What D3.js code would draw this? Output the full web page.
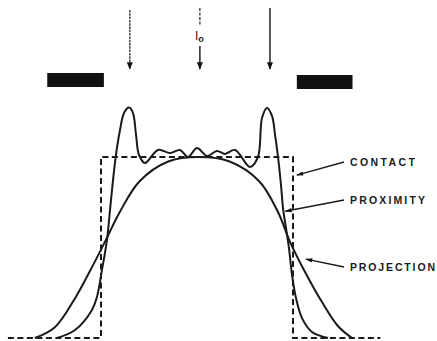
<!DOCTYPE html>
<html>
<head>
<meta charset="utf-8">
<script src="https://cdn.jsdelivr.net/npm/d3@7"></script>
<style>
  body { margin: 0; background: #fff; }
  svg { display: block; }
  .lbl { font-family: "Liberation Sans", Arial, sans-serif; font-weight: bold; font-size: 10.5px; fill: #1a1a1a; }
</style>
</head>
<body>
<div id="graph"></div>
<script>
// position across the mask (opening = -1..1), relative intensity (open field = 1)
var contactU = [-1.97, -1, -1, 1, 1, 1.91];
var contactI = [0, 0, 1, 1, 0, 0];

var proximityU = [-1.458, -1.271, -1.094, -1.042, -0.990, -0.938, -0.896, -0.847, -0.802, -0.760, -0.708,
  -0.667, -0.635, -0.604, -0.542, -0.406, -0.281, -0.177, -0.094, 0.0, 0.104, 0.208, 0.292, 0.396, 0.552,
  0.635, 0.677, 0.729, 0.781, 0.813, 0.844, 0.875, 0.896, 0.927, 0.958, 0.990, 1.031, 1.094, 1.198, 1.365];
var proximityI = [0, 0.044, 0.155, 0.227, 0.376, 0.541, 0.762, 1.0, 1.149, 1.243, 1.273,
  1.243, 1.122, 1.011, 0.967, 1.039, 1.022, 1.039, 1.0, 1.050, 1.006, 1.033, 1.017, 1.039, 0.945,
  1.0, 1.215, 1.271, 1.227, 1.122, 1.0, 0.845, 0.718, 0.608, 0.497, 0.348, 0.221, 0.110, 0.033, 0];

var projectionU = [-1.69, -1.48, -1.27, -1.115, -0.96, -0.80, -0.60, -0.30, 0.02, 0.34, 0.65, 0.84, 0.97,
  1.12, 1.30, 1.47, 1.615];
var projectionI = [0, 0.06, 0.22, 0.37, 0.53, 0.70, 0.865, 0.975, 1.0, 0.975, 0.865, 0.70, 0.53,
  0.37, 0.20, 0.065, 0];

var arrowU = [-0.70, 0.03, 0.76];
var maskBars = [[-1.56, -0.97], [1.04, 1.62]];

var labels = ["CONTACT", "PROXIMITY", "PROJECTION"];
var labelTargetU = [1.04, 0.92, 1.135];
var labelTargetI = [0.90, 0.70, 0.436];

function setup() {
  var W = 437, H = 341;
  var svg = d3.select("#graph").append("svg")
    .attr("width", W).attr("height", H);

  var x = d3.scaleLinear().domain([-1, 1]).range([101, 293]);
  var y = d3.scaleLinear().domain([0, 1]).range([338, 157]);

  var defs = svg.append("defs");
  defs.append("marker")
    .attr("id", "head")
    .attr("viewBox", "0 0 10 10")
    .attr("refX", 9).attr("refY", 5)
    .attr("markerWidth", 5).attr("markerHeight", 5)
    .attr("markerUnits", "strokeWidth")
    .attr("orient", "auto")
    .append("path")
    .attr("d", "M0,1 L10,5 L0,9 Z")
    .attr("fill", "#111");
  defs.append("marker")
    .attr("id", "tip")
    .attr("viewBox", "0 0 10 10")
    .attr("refX", 9).attr("refY", 5)
    .attr("markerWidth", 7).attr("markerHeight", 5)
    .attr("markerUnits", "strokeWidth")
    .attr("orient", "auto")
    .append("path")
    .attr("d", "M0,2 L10,5 L0,8 Z")
    .attr("fill", "#111");

  var g = svg.append("g");

  // incident light arrows
  arrowU.forEach(function (u, i) {
    var ax = x(u);
    if (i == 1) {
      g.append("line")
        .attr("x1", ax).attr("x2", ax).attr("y1", 8).attr("y2", 25)
        .attr("stroke", "#333").attr("stroke-width", 1.3)
        .attr("stroke-dasharray", "3,1.5");
      g.append("line")
        .attr("x1", ax).attr("x2", ax).attr("y1", 46).attr("y2", 69)
        .attr("stroke", "#222").attr("stroke-width", 1.5)
        .attr("marker-end", "url(#head)");
      var t = g.append("text").attr("class", "lbl")
        .attr("x", ax - 5).attr("y", 40)
        .style("font-weight", "normal").style("font-size", "12px");
      t.append("tspan").text("I");
      t.append("tspan").attr("dy", 2).style("font-size", "9px").style("font-weight", "bold").text("o");
    } else {
      g.append("line")
        .attr("x1", ax).attr("x2", ax).attr("y1", i == 0 ? 10 : 8).attr("y2", 69)
        .attr("stroke", i == 0 ? "#444" : "#222").attr("stroke-width", 1.5)
        .attr("stroke-dasharray", i == 0 ? "2.5,0.8" : null)
        .attr("marker-end", "url(#head)");
    }
  });

  // opaque mask parts
  g.selectAll("rect.mask")
    .data(maskBars)
    .enter().append("rect")
    .attr("class", "mask")
    .attr("x", function (d) { return x(d[0]); })
    .attr("width", function (d) { return x(d[1]) - x(d[0]); })
    .attr("y", function (d, i) { return i == 0 ? 73 : 75; })
    .attr("height", 14)
    .attr("fill", "#111");

  var line = d3.line()
    .x(function (d) { return x(d[0]); })
    .y(function (d) { return y(d[1]); });

  // contact (dashed, ideal)
  g.append("path")
    .datum(d3.zip(contactU, contactI))
    .attr("d", line)
    .attr("fill", "none")
    .attr("stroke", "#1a1a1a")
    .attr("stroke-width", 2)
    .attr("stroke-dasharray", "6,3.5");

  var smooth = d3.line()
    .x(function (d) { return x(d[0]); })
    .y(function (d) { return y(d[1]); })
    .curve(d3.curveCatmullRom.alpha(0.5));

  g.append("path")
    .datum(d3.zip(projectionU, projectionI))
    .attr("d", smooth)
    .attr("fill", "none")
    .attr("stroke", "#1a1a1a")
    .attr("stroke-width", 2);

  g.append("path")
    .datum(d3.zip(proximityU, proximityI))
    .attr("d", smooth)
    .attr("fill", "none")
    .attr("stroke", "#1a1a1a")
    .attr("stroke-width", 2);

  // labels + leader lines
  var labelY = [166, 204, 271];
  var labelLen = [65, 75, 85];
  labels.forEach(function (name, i) {
    g.append("line")
      .attr("x1", 344).attr("y1", labelY[i] - 4)
      .attr("x2", x(labelTargetU[i])).attr("y2", y(labelTargetI[i]))
      .attr("stroke", "#1a1a1a").attr("stroke-width", 1.4)
      .attr("marker-end", "url(#tip)");
    g.append("text")
      .attr("class", "lbl")
      .attr("x", 350).attr("y", labelY[i])
      .attr("textLength", labelLen[i])
      .attr("lengthAdjust", "spacing")
      .text(name);
  });
}

window.addEventListener('load', setup)
</script>
</body>
</html>
